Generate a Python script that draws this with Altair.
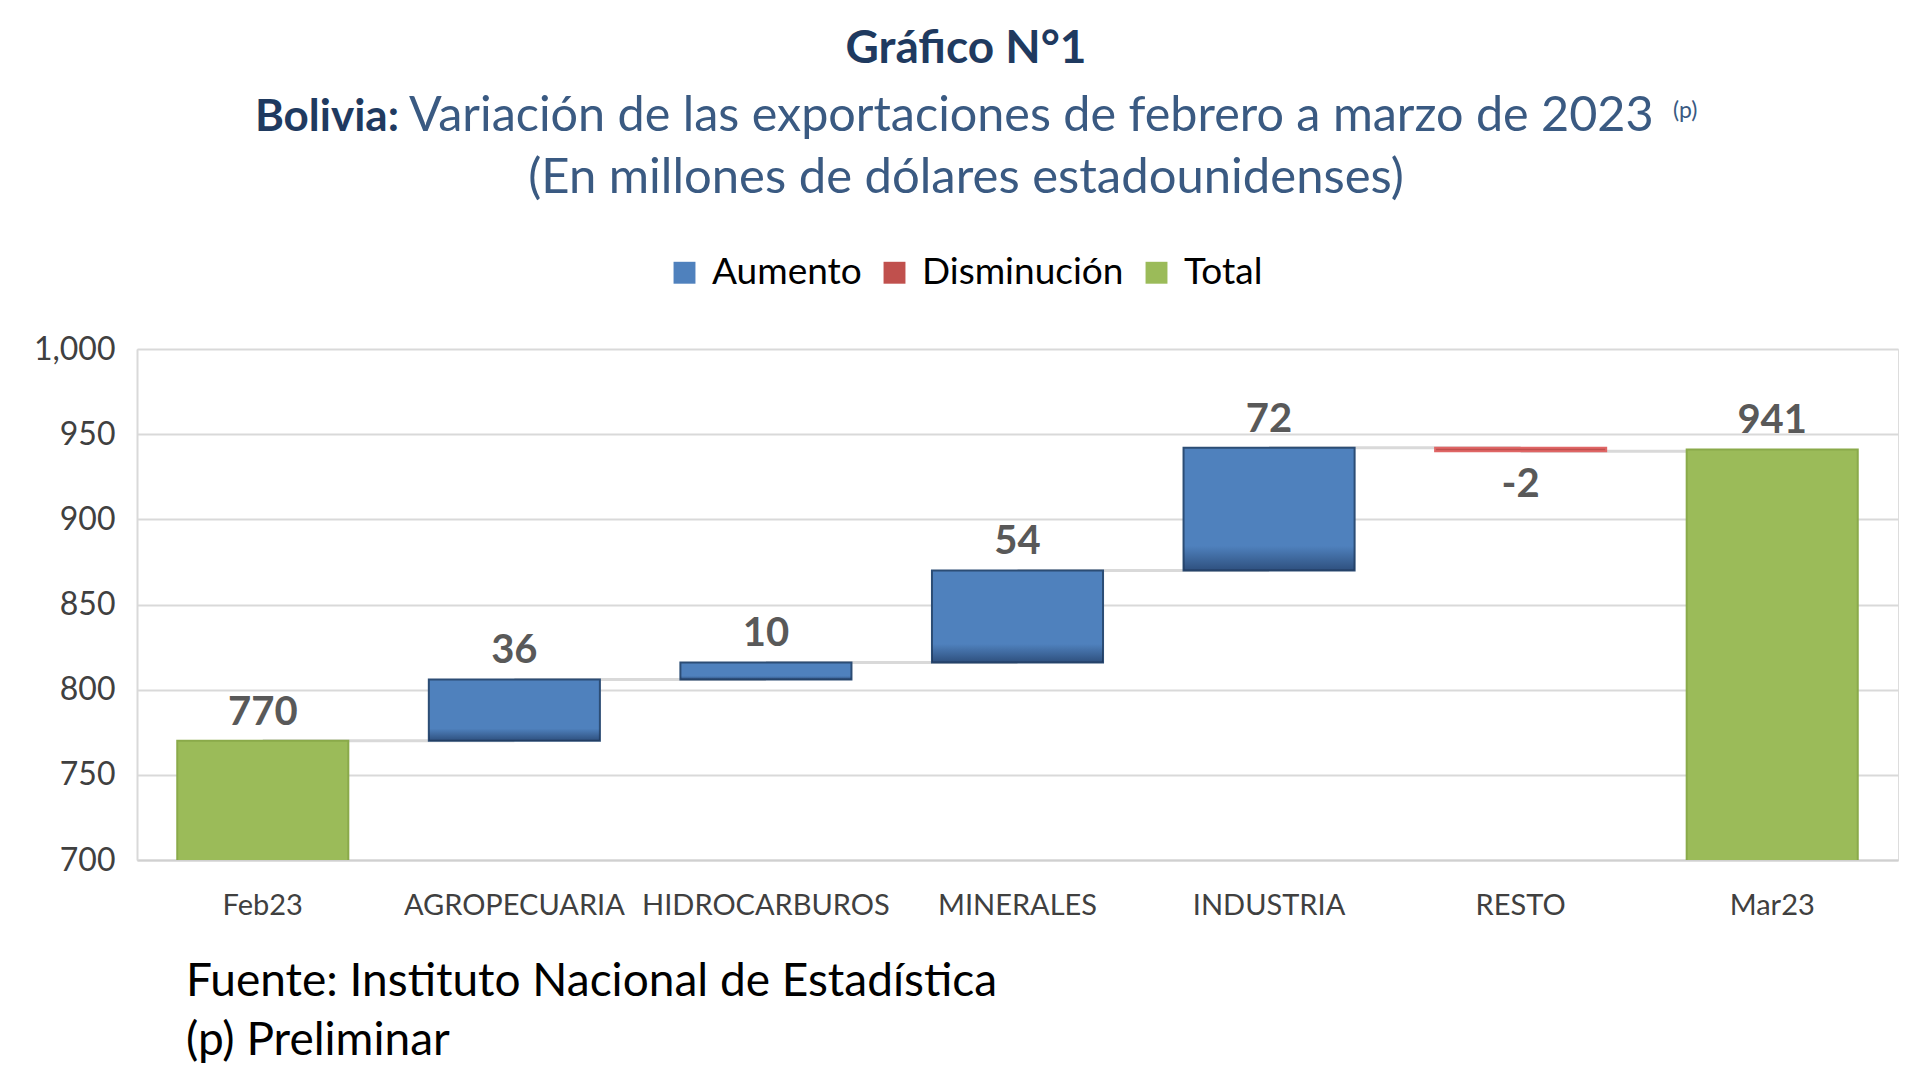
import altair as alt
import pandas as pd

categories = ["Feb23", "AGROPECUARIA", "HIDROCARBUROS", "MINERALES", "INDUSTRIA", "RESTO", "Mar23"]
values = [770, 36, 10, 54, 72, -2, 941]
kinds = ["Total", "Aumento", "Aumento", "Aumento", "Aumento", "Disminución", "Total"]
labels = ["770", "36", "10", "54", "72", "-2", "941"]
y_ticks = [700, 750, 800, 850, 900, 950, 1000]
legend_order = ["Aumento", "Disminución", "Total"]
legend_colors = ["#4F81BD", "#C0504D", "#9BBB59"]
edge_colors = ["#2C4D75", "#E06666", "#8AAA4A"]

rows = []
running = 0
for i, (c, v, k, l) in enumerate(zip(categories, values, kinds, labels)):
    if k == "Total":
        start, end = 0, v
        running = v
    else:
        start, end = running, running + v
        running = end
    rows.append(dict(cat=c, start=start, end=end, kind=k, label=l,
                     top=max(start, end), bottom=min(start, end), level=end,
                     nxt=categories[i + 1] if i + 1 < len(categories) else None))
df = pd.DataFrame(rows)
conn = df[df["nxt"].notna()]

FONT = "Lato"
xscale = alt.Scale(domain=categories, paddingInner=0.32, paddingOuter=0.16)
yscale = alt.Scale(domain=[700, 1000], nice=False, zero=False)

x_axis = alt.Axis(title=None, labelAngle=0, labelFontSize=29, labelFont=FONT,
                  labelColor="#404040", labelPadding=31, ticks=False, bandPosition=0.5,
                  labelAlign="center", domainColor="#D0D0D0", domainWidth=2, labelLimit=400,
                  labelOverlap=False)
y_axis = alt.Axis(title=None, values=y_ticks, labelExpr="format(datum.value, ',')",
                  labelFontSize=32, labelFont=FONT,
                  labelColor="#404040", labelPadding=22, ticks=False, grid=True,
                  gridColor="#D9D9D9", gridWidth=2, domainColor="#D9D9D9", domainWidth=2)


def X():
    return alt.X("cat:N", scale=xscale, sort=categories, axis=x_axis)


def Y(field):
    return alt.Y(field, scale=yscale, axis=y_axis)


connectors = alt.Chart(conn).mark_rule(color="#D9D9D9", strokeWidth=3).encode(
    x=X(), x2="nxt:N", y=Y("level:Q"),
)

bars = alt.Chart(df).mark_bar(clip=True, strokeWidth=2).encode(
    x=X(),
    y=Y("start:Q"),
    y2="end:Q",
    color=alt.Color("kind:N", scale=alt.Scale(domain=legend_order, range=legend_colors),
                    legend=alt.Legend(title=None, orient="none", legendX=529, legendY=-95,
                                      direction="horizontal", symbolType="square",
                                      symbolSize=480, labelFontSize=37, labelFont=FONT,
                                      labelColor="#000000", columnPadding=14, labelOffset=9,
                                      symbolStrokeWidth=0, labelLimit=400)),
    stroke=alt.Stroke("kind:N", scale=alt.Scale(domain=legend_order, range=edge_colors),
                      legend=None),
)

shade = alt.Chart(df).transform_filter("datum.kind == 'Aumento'").mark_bar(
    clip=True,
    color=alt.Gradient(gradient="linear", x1=0, x2=0, y1=0, y2=1,
                       stops=[alt.GradientStop(color="rgba(20,40,75,0)", offset=0),
                              alt.GradientStop(color="rgba(20,40,75,0)", offset=0.8),
                              alt.GradientStop(color="rgba(20,40,75,0.55)", offset=1)]),
).encode(x=X(), y=Y("start:Q"), y2="end:Q")

lab_pos = alt.Chart(df).transform_filter("datum.kind != 'Disminución'").mark_text(
    font=FONT, fontSize=40, fontWeight="bold", color="#595959", baseline="bottom", dy=-8
).encode(x=X(), y=Y("top:Q"), text="label:N")

lab_neg = alt.Chart(df).transform_filter("datum.kind == 'Disminución'").mark_text(
    font=FONT, fontSize=40, fontWeight="bold", color="#595959", baseline="top", dy=14
).encode(x=X(), y=Y("bottom:Q"), text="label:N")

one = pd.DataFrame({"a": [0]})


def txt(s, x, y, size, color, weight="normal", align="center", baseline="alphabetic"):
    return alt.Chart(one).mark_text(text=s, font=FONT, fontSize=size, fontWeight=weight,
                                    color=color, align=align, baseline=baseline).encode(
        x=alt.value(x), y=alt.value(y))


titles = [
    txt("Gráfico N°1", 829, -286, 46, "#1F3A60", "bold"),
    txt("Bolivia:", 262, -218, 44, "#1F3A60", "bold", align="right"),
    txt("Variación de las exportaciones de febrero a marzo de 2023", 272, -218, 48.5, "#3A5A82", align="left"),
    txt("(p)", 1536, -231, 23, "#3A5A82", align="left"),
    txt("(En millones de dólares estadounidenses)", 829, -156, 49, "#3A5A82"),
    txt("Fuente: Instituto Nacional de Estadística", 49, 647, 46, "#000000", align="left"),
    txt("(p) Preliminar", 49, 706, 46, "#000000", align="left"),
]

chart = alt.layer(connectors, bars, shade, lab_pos, lab_neg, *titles).properties(
    width=1761, height=511,
    autosize=alt.AutoSizeParams(type="none"),
    padding={"left": 129, "top": 341, "right": 14, "bottom": 205},
).configure_view(stroke=None).configure(background="#FFFFFF")

chart.save("out.html", embed_options={"renderer": "svg", "actions": False})
